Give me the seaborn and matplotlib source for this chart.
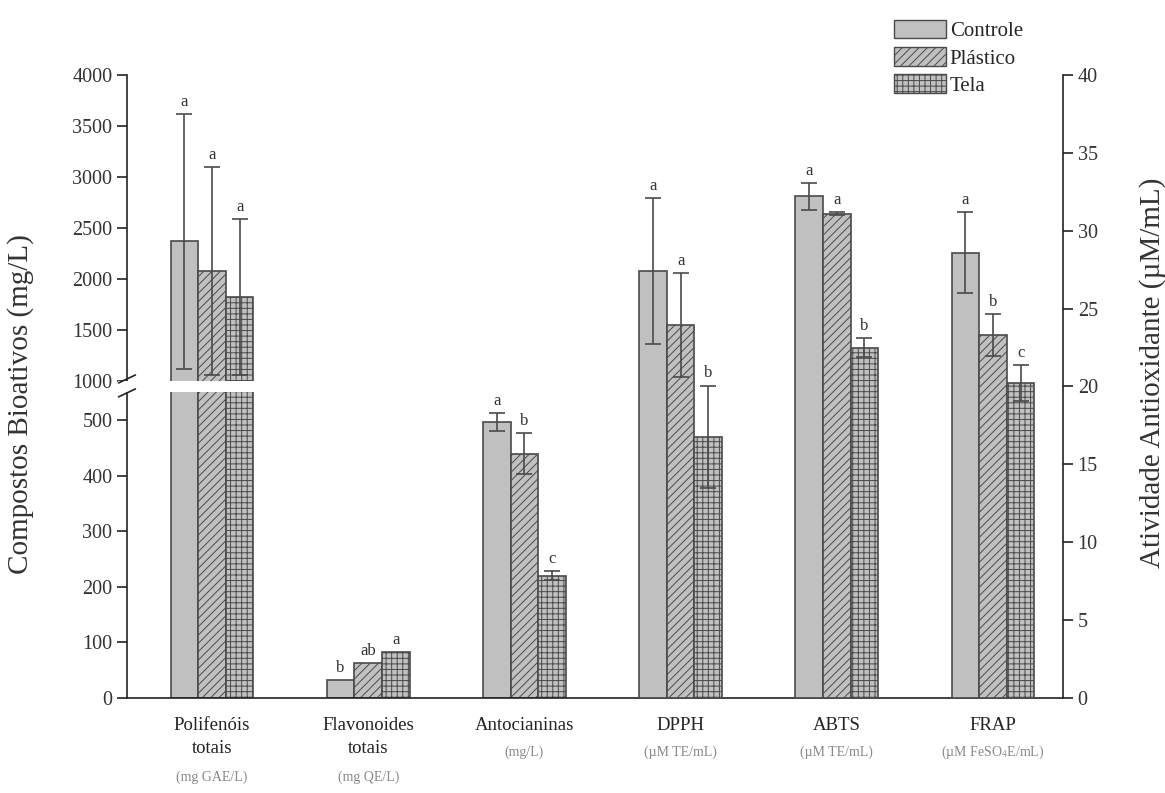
import matplotlib.pyplot as plt
import matplotlib.patches as mpatches
import seaborn as sns
import pandas as pd
import numpy as np

# -------------------------------
# Data
# -------------------------------
categories = ["Polifenóis totais", "Flavonoides totais", "Antocianinas", "DPPH", "ABTS", "FRAP"]
cat_names = ["Polifenóis\ntotais", "Flavonoides\ntotais", "Antocianinas", "DPPH", "ABTS", "FRAP"]
cat_units = ["(mg GAE/L)", "(mg QE/L)", "(mg/L)", "(µM TE/mL)", "(µM TE/mL)", "(µM FeSO$_4$E/mL)"]
treatments = ["Controle", "Plástico", "Tela"]

# first three categories -> left axis (mg/L), last three -> right axis (µM/mL)
controle = [2370, 32, 497, 27.4, 32.2, 28.6]
plastico = [2075, 62, 439, 23.95, 31.1, 23.3]
tela = [1820, 83, 220, 16.75, 22.5, 20.2]

err_controle = [1250, 0, 16, 4.7, 0.85, 2.6]
err_plastico = [1020, 0, 37, 3.35, 0.1, 1.35]
err_tela = [765, 0, 8, 3.3, 0.6, 1.15]

let_controle = ["a", "b", "a", "a", "a", "a"]
let_plastico = ["a", "ab", "b", "a", "a", "b"]
let_tela = ["a", "a", "c", "b", "b", "c"]

left_ticks = [0, 100, 200, 300, 400, 500, 1000, 1500, 2000, 2500, 3000, 3500, 4000]
right_ticks = [0, 5, 10, 15, 20, 25, 30, 35, 40]

# broken left axis: 0-550 gets the lower part, 1000-4000 the upper part
brk_v = [-4000, 0, 550, 1000, 4000, 8000]
brk_p = [-142.8, 0, 19.63, 20.35, 40, 66.2]

values = [controle, plastico, tela]
errors = [err_controle, err_plastico, err_tela]
letters = [let_controle, let_plastico, let_tela]

rows = []
for t, vals, errs, lets in zip(treatments, values, errors, letters):
    for c, v, e, l in zip(categories, vals, errs, lets):
        rows.append({"categoria": c, "tratamento": t, "valor": v, "erro": e, "letra": l})
df = pd.DataFrame(rows)
df_left = df[df["categoria"].isin(categories[:3])]
df_right = df[df["categoria"].isin(categories[3:])]

# -------------------------------
# Style
# -------------------------------
sns.set_theme(style="ticks")
plt.rcParams['font.family'] = ['Liberation Serif', 'DejaVu Serif']
plt.rcParams['mathtext.fontset'] = 'stix'
plt.rcParams['hatch.linewidth'] = 0.7

bar_fill = "#c0c0c0"
edge = "#4a4a4a"
text_col = "#333333"
hatches = ["", "////", "+++"]

fig, ax = plt.subplots(figsize=(11.65, 7.93), dpi=100)
fig.subplots_adjust(left=0.109, right=0.9125, bottom=0.12, top=0.9054)
ax2 = ax.twinx()


def fwd(v):
    return np.interp(v, brk_v, brk_p)


def inv(p):
    return np.interp(p, brk_p, brk_v)


for axis, data in [(ax, df_left), (ax2, df_right)]:
    sns.barplot(data=data, x="categoria", y="valor", hue="tratamento",
                order=categories, hue_order=treatments,
                palette=[bar_fill] * 3, saturation=1, width=0.53,
                edgecolor=edge, linewidth=1.2, errorbar=None,
                legend=False, ax=axis)

ax.set_yscale('function', functions=(fwd, inv))
ax.set_ylim(0, 4000)
ax2.set_ylim(0, 40)

# hatches, error bars and letters
for axis, data in [(ax, df_left), (ax2, df_right)]:
    bar_containers = list(axis.containers)
    for j, cont in enumerate(bar_containers):
        sub = data[data["tratamento"] == treatments[j]].set_index("categoria")
        for patch in cont.patches:
            patch.set_hatch(hatches[j])
            xc = patch.get_x() + patch.get_width() / 2
            cat = categories[int(round(xc))]
            v = sub.loc[cat, "valor"]
            e = sub.loc[cat, "erro"]
            if e > 0:
                axis.errorbar(xc, v, yerr=e, fmt='none', ecolor=edge,
                              elinewidth=1.2, capsize=5.5, capthick=1.2, zorder=4)
            axis.annotate(sub.loc[cat, "letra"], xy=(xc, v + e), xytext=(0, 3),
                          textcoords='offset points', ha='center', va='bottom',
                          fontsize=12, color=text_col)

# gap in the bars/spine for the axis break
ax.axhspan(555, 995, xmin=-0.01, xmax=0.2, facecolor='white', edgecolor='none',
           zorder=3, clip_on=False)
for yb in [0.512, 0.4896]:
    ax.plot([-0.009, 0.009], [yb - 0.0064, yb + 0.0064], transform=ax.transAxes,
            color='#222222', lw=1.2, clip_on=False, zorder=5)

# axes, ticks
ax.set_xlim(-0.544, 5.448)
for s in ["top", "right"]:
    ax.spines[s].set_visible(False)
for s in ["top", "left", "bottom"]:
    ax2.spines[s].set_visible(False)
for s in ["left", "bottom"]:
    ax.spines[s].set_color('#222222')
    ax.spines[s].set_linewidth(1.2)
ax2.spines["right"].set_color('#222222')
ax2.spines["right"].set_linewidth(1.2)

ax.set_yticks(left_ticks)
ax.set_yticklabels([str(t) for t in left_ticks])
ax2.set_yticks(right_ticks)
ax2.set_yticklabels([str(t) for t in right_ticks])
ax.yaxis.set_minor_locator(plt.NullLocator())
ax.tick_params(axis='y', direction='out', length=7, width=1.2, color='#222222',
               labelsize=14.5, labelcolor=text_col)
ax2.tick_params(axis='y', direction='out', length=7, width=1.2, color='#222222',
                labelsize=14.5, labelcolor=text_col)
ax.tick_params(axis='x', length=0, labelbottom=False)
ax2.tick_params(axis='x', length=0, labelbottom=False)
ax.set_xlabel("")
ax2.set_xlabel("")

ax.set_ylabel("Compostos Bioativos (mg/L)", fontsize=21, color=text_col)
ax.yaxis.set_label_coords(-0.099, 0.472)
ax2.set_ylabel("Atividade Antioxidante (µM/mL)", fontsize=21, color=text_col)
ax2.yaxis.set_label_coords(1.081, 0.522)

# category labels under the axis
for i, (name, unit) in enumerate(zip(cat_names, cat_units)):
    nlines = name.count("\n") + 1
    ax.text(i, -0.031, name, transform=ax.get_xaxis_transform(), ha='center', va='top',
            fontsize=13.5, color='#222222', linespacing=1.45)
    ax.text(i, -0.087 - 0.04 * (nlines - 1), unit, transform=ax.get_xaxis_transform(),
            ha='center', va='center', fontsize=10, color='#888888')

# legend
handles = [mpatches.Patch(facecolor=bar_fill, edgecolor=edge, hatch=h, label=t)
           for t, h in zip(treatments, hatches)]
ax2.legend(handles=handles, loc='upper left', bbox_to_anchor=(0.81, 1.102),
           frameon=False, fontsize=15, handlelength=2.5, handleheight=1.0,
           labelspacing=0.28, handletextpad=0.2, borderaxespad=0)

plt.savefig("out.png", dpi=100)
plt.close()
